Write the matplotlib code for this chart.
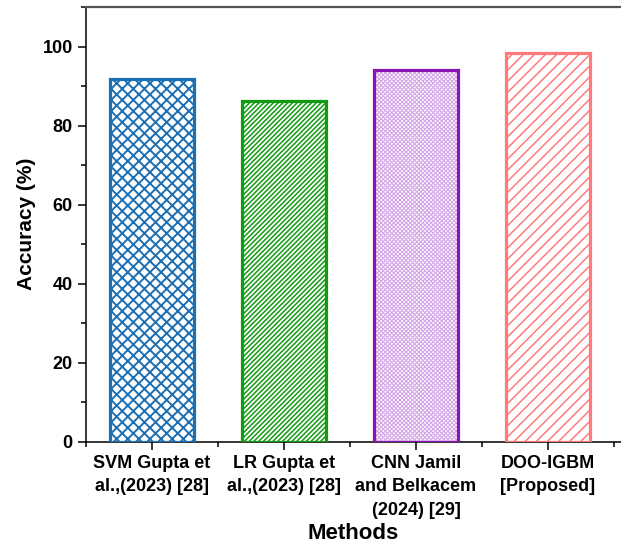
import matplotlib.pyplot as plt
import numpy as np

plt.rcParams['font.family'] = 'Liberation Sans'
plt.rcParams['font.weight'] = 'bold'

methods = ['SVM Gupta et\nal.,(2023) [28]', 'LR Gupta et\nal.,(2023) [28]',
           'CNN Jamil\nand Belkacem\n(2024) [29]', 'DOO-IGBM\n[Proposed]']
accuracy = [91.8, 86.3, 94.1, 98.4]
edge_colors = ['#1c6fb3', '#129a12', '#8a14b4', '#ff7a7a']
hatch_colors = ['#1c6fb3', '#129a12', '#d4a8e8', '#ff7a7a']
hatches = ['xxx', '///////', 'xxxxxxxx', '///']
hatch_widths = [1.4, 1.1, 0.8, 1.1]

fig = plt.figure(figsize=(6.21, 5.52), dpi=100)
ax = fig.add_axes([86/621, 110.5/552, 535/621, 434.5/552])
x = np.arange(1, len(methods) + 1)

for i in range(len(methods)):
    # hatch layer, then a clean outline on top
    plt.rcParams['hatch.linewidth'] = hatch_widths[i]
    ax.bar(x[i], accuracy[i], width=0.63, color='white',
           edgecolor=hatch_colors[i], hatch=hatches[i], linewidth=0, zorder=2)
    ax.bar(x[i], accuracy[i], width=0.63, fill=False,
           edgecolor=edge_colors[i], linewidth=2.3, zorder=3)

ax.set_xlim(0.5, 0.5 + 535/132)
ax.set_ylim(0, 110)
ax.set_yticks(np.arange(0, 101, 20))
ax.set_yticks(np.arange(0, 111, 10), minor=True)
ax.set_xticks(x)
ax.set_xticks(np.arange(0.5, 4.6, 1), minor=True)
ax.set_xticklabels(methods, fontsize=13, fontweight='bold', linespacing=1.5)
ax.tick_params(axis='y', labelsize=13)
ax.tick_params(which='major', direction='out', length=6, width=1.1)
ax.tick_params(which='minor', direction='out', length=3.5, width=1.1)
for lab in ax.get_yticklabels():
    lab.set_fontweight('bold')

ax.spines['right'].set_visible(False)
for s in ['left', 'bottom', 'top']:
    ax.spines[s].set_linewidth(1.1)
ax.spines['top'].set_color('#555555')
ax.spines['top'].set_linewidth(1.6)

ax.set_xlabel('Methods', fontsize=16, fontweight='bold', labelpad=3)
ax.set_ylabel('Accuracy (%)', fontsize=15, fontweight='bold', labelpad=5)

plt.savefig('out.png', dpi=100)
